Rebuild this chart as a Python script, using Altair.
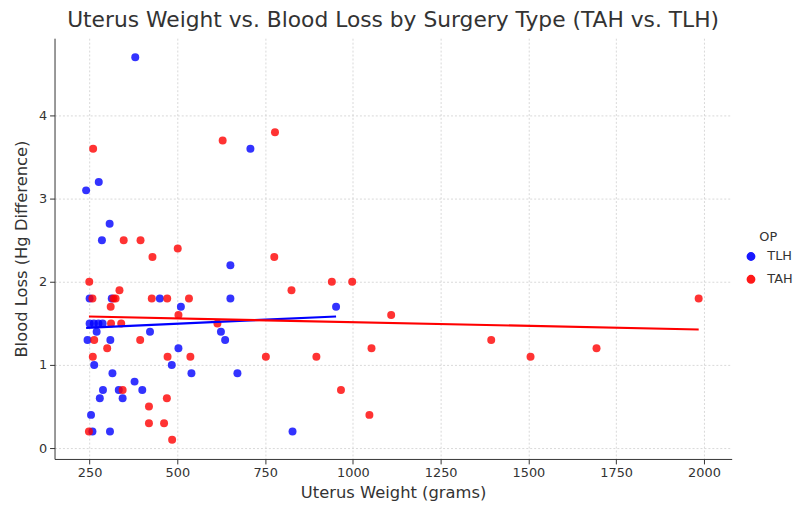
import altair as alt
import pandas as pd

# TLH (blue) observations
tlh_weight = [380, 708, 276, 240, 307, 285, 651, 250, 313, 450, 651, 510, 952,
              250, 262, 275, 287, 270, 422, 624, 244, 309, 636, 503, 263, 484,
              315, 540, 671, 378, 288, 333, 400, 279, 344, 254, 258, 308, 828]
tlh_loss = [4.7, 3.6, 3.2, 3.1, 2.7, 2.5, 2.2, 1.8, 1.8, 1.8, 1.8, 1.7, 1.7,
            1.5, 1.5, 1.5, 1.5, 1.4, 1.4, 1.4, 1.3, 1.3, 1.3, 1.2, 1.0, 1.0,
            0.9, 0.9, 0.9, 0.8, 0.7, 0.7, 0.7, 0.6, 0.6, 0.4, 0.2, 0.2, 0.2]

# TAH (red) observations
tah_weight = [260, 629, 778, 347, 395, 501, 429, 776, 249, 940, 998, 335, 825,
              258, 318, 324, 427, 471, 533, 1985, 310, 503, 1109, 311, 340, 614,
              263, 394, 1394, 300, 1053, 1694, 259, 472, 537, 752, 896, 1506,
              344, 966, 470, 419, 1047, 419, 462, 248, 485]
tah_loss = [3.6, 3.7, 3.8, 2.5, 2.5, 2.4, 2.3, 2.3, 2.0, 2.0, 2.0, 1.9, 1.9,
            1.8, 1.8, 1.8, 1.8, 1.8, 1.8, 1.8, 1.7, 1.6, 1.6, 1.5, 1.5, 1.5,
            1.3, 1.3, 1.3, 1.2, 1.2, 1.2, 1.1, 1.1, 1.1, 1.1, 1.1, 1.1,
            0.7, 0.7, 0.6, 0.5, 0.4, 0.3, 0.3, 0.2, 0.1]

x_ticks = [250, 500, 750, 1000, 1250, 1500, 1750, 2000]
y_ticks = [0, 1, 2, 3, 4]
groups = ["TLH", "TAH"]
colors = ["blue", "red"]

df = pd.concat([
    pd.DataFrame({"weight": tlh_weight, "loss": tlh_loss, "OP": "TLH"}),
    pd.DataFrame({"weight": tah_weight, "loss": tah_loss, "OP": "TAH"}),
], ignore_index=True)

FONT = "DejaVu Sans"

x_enc = alt.X("weight:Q", title="Uterus Weight (grams)",
              scale=alt.Scale(domain=[150, 2079], nice=False, zero=False),
              axis=alt.Axis(values=x_ticks, format="d"))
y_enc = alt.Y("loss:Q", title="Blood Loss (Hg Difference)",
              scale=alt.Scale(domain=[-0.13, 4.93], nice=False, zero=False),
              axis=alt.Axis(values=y_ticks, format="d"))
color_scale = alt.Scale(domain=groups, range=colors)

points = alt.Chart(df).mark_circle(size=65, opacity=0.8).encode(
    x=x_enc, y=y_enc,
    color=alt.Color("OP:N", scale=color_scale, sort=groups,
                    legend=alt.Legend(title="OP", orient="none",
                                      legendX=697, legendY=195,
                                      symbolType="circle", symbolSize=55,
                                      symbolOpacity=0.9, labelOffset=10,
                                      titleAnchor="middle", padding=0,
                                      rowPadding=8, titlePadding=6,
                                      labelFontSize=13, titleFontSize=13,
                                      titleFontWeight="normal",
                                      labelFont=FONT, titleFont=FONT,
                                      labelColor="#333", titleColor="#333")),
)

lines = alt.Chart(df).transform_regression(
    "weight", "loss", groupby=["OP"]
).mark_line(strokeWidth=2.2).encode(
    x="weight:Q", y="loss:Q",
    color=alt.Color("OP:N", scale=color_scale, legend=None),
)

chart = alt.layer(points, lines).properties(
    width=684, height=425,
    title=alt.TitleParams("Uterus Weight vs. Blood Loss by Surgery Type (TAH vs. TLH)",
                          font=FONT, fontSize=22, fontWeight="normal",
                          color="#333", anchor="middle", offset=6),
    autosize=alt.AutoSizeParams(type="none"),
    padding={"left": 47, "top": 28, "right": 68, "bottom": 44},
).configure_view(stroke=None).configure_axis(
    labelFont=FONT, titleFont=FONT, labelFontSize=13, titleFontSize=16.5,
    titleFontWeight="normal", labelColor="#333", titleColor="#333",
    gridColor="#cfcfcf", gridDash=[2, 2], gridWidth=0.8,
    domainColor="#333", tickColor="#333", tickSize=5, labelPadding=3,
).configure_axisX(titlePadding=5).configure_axisY(titlePadding=9)

chart.save("out.html", embed_options={"renderer": "svg", "actions": False})
